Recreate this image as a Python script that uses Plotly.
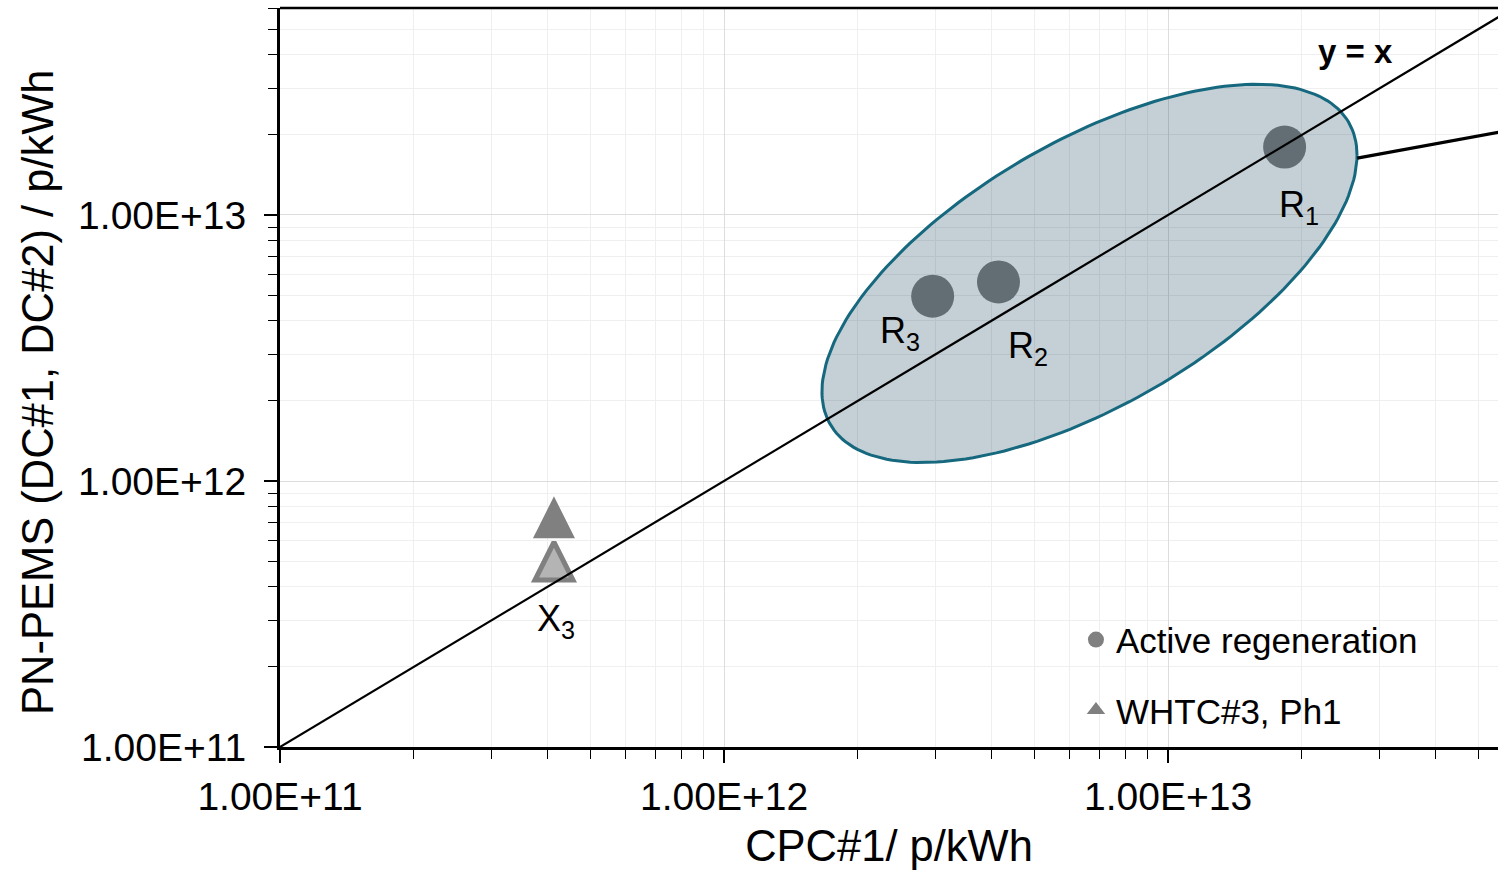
import numpy as np
import plotly.graph_objects as go

# ---- data ----
regen_names = ["R1", "R2", "R3"]
regen_x = [1.83e13, 4.15e12, 2.95e12]
regen_y = [1.80e13, 5.60e12, 4.95e12]

whtc_x = [4.14e11]
whtc_y = [7.30e11]
whtc2_x = [4.14e11]
whtc2_y = [5.00e11]

diag_x = [1e11, 6e13]
diag_y = [1e11, 6e13]

tick_vals = [1e11, 1e12, 1e13]
tick_text = ["1.00E+11", "1.00E+12", "1.00E+13"]
minor_vals = [m * 10 ** d for d in range(11, 14) for m in range(2, 10)]

# ellipse (log-space description of the highlighted region)
ell_cx, ell_cy = 12.823, 12.7805
ell_w, ell_h = 0.6025, 0.711
ell_sinphi = 0.625

# callout line
call_x = [10 ** 13.426, 10 ** 13.75]
call_y = [10 ** 13.214, 10 ** 13.313]

FONT = "Liberation Sans, Arial, sans-serif"
GRAY = "#808080"

fig = go.Figure()

fig.add_trace(go.Scatter(
    x=regen_x, y=regen_y, mode="markers", name="Active regeneration",
    legendgroup="a",
    marker=dict(symbol="circle", size=43, color=GRAY, line=dict(width=0)),
))
# legend entry for the WHTC#3 triangles
fig.add_trace(go.Scatter(
    x=[None], y=[None], mode="markers", name="WHTC#3, Ph1",
    legendgroup="b",
    marker=dict(symbol="triangle-up", size=20, color=GRAY, line=dict(width=0)),
))
fig.add_trace(go.Scatter(
    x=whtc_x, y=whtc_y, mode="markers", name="WHTC#3, Ph1",
    legendgroup="b", showlegend=False,
    marker=dict(symbol="arrow-down", angle=180, size=42, standoff=21,
                color=GRAY, line=dict(width=0)),
))
fig.add_trace(go.Scatter(
    x=whtc2_x, y=whtc2_y, mode="markers", showlegend=False,
    legendgroup="b",
    marker=dict(symbol="arrow-down", angle=180, size=38, standoff=19,
                color="#b4b4b4", line=dict(width=5, color=GRAY)),
))

t = np.linspace(0, 2 * np.pi, 200)
phi = np.arcsin(ell_sinphi)
ex = 10 ** (ell_cx + ell_w * np.cos(t))
ey = 10 ** (ell_cy + ell_h * np.sin(t + phi))
fig.add_trace(go.Scatter(
    x=ex, y=ey, mode="lines", fill="toself", showlegend=False, hoverinfo="skip",
    fillcolor="rgba(0,53,75,0.23)", line=dict(color="#15687e", width=3),
))

fig.add_trace(go.Scatter(
    x=diag_x, y=diag_y, mode="lines", showlegend=False,
    line=dict(color="black", width=2.2),
))
fig.add_trace(go.Scatter(
    x=call_x, y=call_y, mode="lines", showlegend=False,
    line=dict(color="black", width=3.2),
))

labels = [
    ("R<sub>1</sub>", regen_x[0], regen_y[0], 14, -60),
    ("R<sub>2</sub>", regen_x[1], regen_y[1], 30, -66),
    ("R<sub>3</sub>", regen_x[2], regen_y[2], -33, -37),
    ("X<sub>3</sub>", whtc2_x[0], whtc2_y[0], 2, -60),
]
annotations = []
for txt, x, y, dx, dy in labels:
    annotations.append(dict(
        x=np.log10(x), y=np.log10(y), xref="x", yref="y", text=txt,
        showarrow=False, xshift=dx, yshift=dy,
        font=dict(family=FONT, size=36, color="black"),
    ))
annotations.append(dict(
    x=13.421, y=13.615, xref="x", yref="y", text="<b>y = x</b>",
    showarrow=False, font=dict(family=FONT, size=33, color="black"),
))
annotations.append(dict(
    x=-0.1987, y=0.4804, xref="paper", yref="paper", textangle=-90,
    text="PN-PEMS (DC#1, DC#2) / p/kWh", showarrow=False,
    xanchor="center", yanchor="middle",
    font=dict(family=FONT, size=43.5, color="black"),
))

axis_common = dict(
    type="log", tickmode="array", tickvals=tick_vals, ticktext=tick_text,
    ticks="outside", ticklen=13, tickwidth=1.5, tickcolor="black",
    showline=True, linecolor="black", linewidth=3,
    showgrid=True, gridcolor="#dddddd", gridwidth=1,
    zeroline=False,
    tickfont=dict(family=FONT, size=39, color="black"),
    minor=dict(tickmode="array", tickvals=minor_vals, ticks="outside",
               ticklen=9, tickwidth=1.2, tickcolor="black",
               showgrid=True, gridcolor="#efefef", gridwidth=1),
)

fig.update_layout(
    width=1498, height=878,
    margin=dict(l=280, r=0, t=8, b=131),
    plot_bgcolor="white", paper_bgcolor="white",
    xaxis=dict(**axis_common, range=[11, 13.743],
               title=dict(text="CPC#1/ p/kWh", standoff=14,
                          font=dict(family=FONT, size=43.5, color="black")),
               ticklabelstandoff=0),
    yaxis=dict(**axis_common, range=[11, np.log10(6e13)],
               ticklabelstandoff=10),
    legend=dict(x=0.6535, xanchor="left", y=0.185, yanchor="top",
                bgcolor="rgba(0,0,0,0)", traceorder="grouped",
                tracegroupgap=22, itemsizing="trace",
                font=dict(family=FONT, size=35, color="black")),
    annotations=annotations,
    shapes=[dict(type="line", xref="paper", yref="paper", x0=0, x1=1, y0=1, y1=1,
                 line=dict(color="black", width=2.5))],
    showlegend=True,
)

fig.write_html("out.html")
